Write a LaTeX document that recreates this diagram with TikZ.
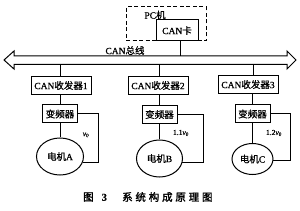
\documentclass[tikz,border=0pt]{standalone}
\usepackage{fontspec}
\setmainfont[FakeBold=0.8]{Liberation Serif}
\newfontfamily\cjk[FakeBold=0.8]{Noto Sans CJK SC}
\newfontfamily\cjkb[FakeBold=1.8]{Noto Sans CJK SC}
\newcommand\zh[1]{{\cjk #1}}
\usetikzlibrary{shapes.geometric}
\tikzset{
  ln/.style={line width=1pt},
  boxnode/.style={draw, ln, inner sep=0pt, minimum height=18pt, font=\fontsize{9.5}{10}\selectfont},
  transbox/.style={boxnode, minimum width=60pt},
  invbox/.style={boxnode, minimum width=35pt},
  motor/.style={draw, ln, ellipse, inner sep=0pt, font=\fontsize{9.5}{10}\selectfont},
  lbl/.style={inner sep=0pt, font=\fontsize{9.5}{10}\selectfont},
  vlbl/.style={inner sep=0pt, font=\fontsize{7.5}{8}\selectfont},
  pcbox/.style={draw, line width=1pt, dash pattern=on 4pt off 2.5pt, inner sep=0pt},
  captext/.style={inner sep=0pt, font=\fontsize{10.5}{12}\selectfont\cjkb, anchor=west}
}
\begin{document}
\begin{tikzpicture}[x=1pt,y=-1pt]
\useasboundingbox (0,0) rectangle (300,211);
% PC
\node[pcbox, minimum width=80pt, minimum height=34pt] (pc) at (166,24) {};
\node[lbl] (pclabel) at (155,15) {PC\zh{机}};
\node[boxnode, minimum width=42pt, minimum height=21pt] (card) at (177,30.5) {CAN\zh{卡}};
% bus
\draw[ln] (4,60) -- (14,51) -- (14,56) -- (287,56) -- (287,51) -- (296,60)
  -- (287,69) -- (287,64.5) -- (14,64.5) -- (14,69) -- cycle;
\node[lbl] (buslabel) at (125,50.5) {CAN\zh{总线}};
\coordinate (pcbus) at (180,56);
\coordinate (bus1) at (60,64.5);
\coordinate (bus2) at (159,64.5);
\coordinate (bus3) at (253,64.5);
\draw[ln] (pcbus) -- (pcbus |- card.south);
% transceivers
\node[transbox] (t1) at (61,85.5) {CAN\zh{收发器}1};
\node[transbox] (t2) at (158,85.5) {CAN\zh{收发器}2};
\node[transbox] (t3) at (248,84.5) {CAN\zh{收发器}3};
\draw[ln] (bus1) -- (bus1 |- t1.north);
\draw[ln] (bus2) -- (bus2 |- t2.north);
\draw[ln] (bus3) -- (bus3 |- t3.north);
% inverters
\node[invbox] (f1) at (60,114) {\zh{变频器}};
\node[invbox] (f2) at (159.5,114.5) {\zh{变频器}};
\node[invbox] (f3) at (252.5,114) {\zh{变频器}};
\draw[ln] (f1.north) -- (f1.north |- t1.south);
\draw[ln] (f2.north) -- (f2.north |- t2.south);
\draw[ln] (f3.north) -- (f3.north |- t3.south);
% motors
\node[motor, minimum width=47pt, minimum height=37pt] (m1) at (60,156.5) {\zh{电机}A};
\node[motor, minimum width=46pt, minimum height=37pt] (m2) at (159.5,158.5) {\zh{电机}B};
\node[motor, minimum width=41pt, minimum height=31pt] (m3) at (252.5,159) {\zh{电机}C};
\draw[ln] (f1.south) -- (m1.north);
\draw[ln] (f2.south) -- (m2.north);
\draw[ln] (f3.south) -- (m3.north);
% feedback
\coordinate (c1) at (98,0);
\coordinate (c2) at (203,0);
\coordinate (c3) at (290,0);
\draw[ln] (f1.east) -| (c1 |- m1.-14) -- (m1.-14);
\draw[ln] (f2.east) -| (c2 |- m2.-10) -- (m2.-10);
\draw[ln] (f3.east) -| (c3 |- m3.-4) -- (m3.-4);
\node[vlbl] (v1) at (86,135) {\textit{v}\textsubscript{0}};
\node[vlbl] (v2) at (181,133) {1.1\textit{v}\textsubscript{0}};
\node[vlbl] (v3) at (274,133) {1.2\textit{v}\textsubscript{0}};
% caption
\node[captext] (capno) at (83,197) {图\hspace{8pt}{\rmfamily\bfseries 3}};
\node[captext] (captitle) at (122,197) {系\hspace{2.8pt}统\hspace{2.8pt}构\hspace{2.8pt}成\hspace{2.8pt}原\hspace{2.8pt}理\hspace{2.8pt}图};
\end{tikzpicture}
\end{document}
